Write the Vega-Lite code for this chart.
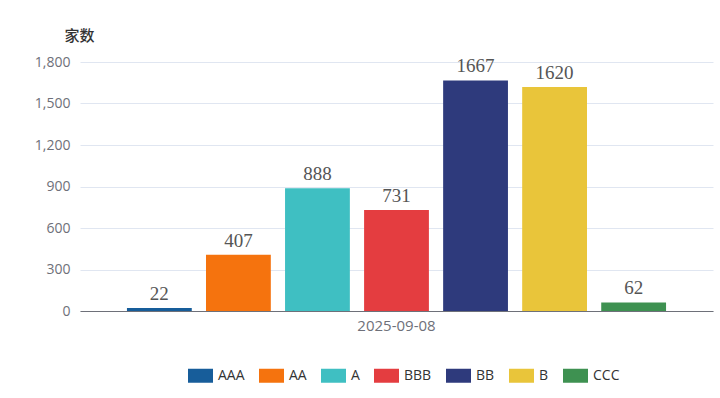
{
  "$schema": "https://vega.github.io/schema/vega-lite/v6.json",
  "width": 633,
  "height": 249,
  "autosize": {"type": "none"},
  "padding": {"left": 80, "top": 62, "right": 7, "bottom": 87},
  "background": "white",
  "data": {
    "values": [
      {"date": "2025-09-08", "rating": "AAA", "count": 22},
      {"date": "2025-09-08", "rating": "AA", "count": 407},
      {"date": "2025-09-08", "rating": "A", "count": 888},
      {"date": "2025-09-08", "rating": "BBB", "count": 731},
      {"date": "2025-09-08", "rating": "BB", "count": 1667},
      {"date": "2025-09-08", "rating": "B", "count": 1620},
      {"date": "2025-09-08", "rating": "CCC", "count": 62}
    ]
  },
  "config": {
    "view": {"stroke": null},
    "font": "Open Sans"
  },
  "encoding": {
    "x": {
      "field": "date",
      "type": "nominal",
      "scale": {"paddingInner": 0, "paddingOuter": 0.072},
      "axis": {
        "title": null,
        "labelAngle": 0,
        "labelColor": "#6E7079",
        "labelFontSize": 15,
        "labelPadding": 7,
        "domainColor": "#6E7079",
        "ticks": false,
        "grid": false
      }
    },
    "xOffset": {
      "field": "rating",
      "type": "nominal",
      "sort": ["AAA", "AA", "A", "BBB", "BB", "B", "CCC"],
      "scale": {"paddingInner": 0.18, "paddingOuter": 0.09}
    },
    "y": {
      "field": "count",
      "type": "quantitative",
      "scale": {"domain": [0, 1800], "nice": false},
      "axis": {
        "values": [0, 300, 600, 900, 1200, 1500, 1800],
        "format": ",d",
        "domain": false,
        "ticks": false,
        "labelColor": "#6E7079",
        "labelFontSize": 14,
        "labelPadding": 10,
        "gridColor": "#E0E6F1",
        "title": "家数",
        "titleAngle": 0,
        "titleX": -1,
        "titleY": -27,
        "titleAlign": "center",
        "titleBaseline": "middle",
        "titleFontSize": 15,
        "titleFontWeight": 500,
        "titleColor": "#333333",
        "titleFont": "Noto Sans CJK SC"
      }
    }
  },
  "layer": [
    {
      "mark": {"type": "bar"},
      "encoding": {
        "color": {
          "field": "rating",
          "type": "nominal",
          "sort": ["AAA", "AA", "A", "BBB", "BB", "B", "CCC"],
          "scale": {
            "domain": ["AAA", "AA", "A", "BBB", "BB", "B", "CCC"],
            "range": ["#175D9A", "#F5730E", "#3FBFC2", "#E43D40", "#2E3A7C", "#E9C53A", "#3E9151"]
          },
          "legend": {
            "title": null,
            "orient": "none",
            "direction": "horizontal",
            "legendX": 108,
            "legendY": 301,
            "symbolType": "M-1,-0.56H1V0.56H-1Z",
            "symbolSize": 625,
            "symbolStrokeWidth": 0,
            "symbolOpacity": 1,
            "labelFontSize": 14,
            "labelColor": "#333333",
            "labelOffset": 5,
            "columnPadding": 14
          }
        }
      }
    },
    {
      "mark": {
        "type": "text",
        "dy": -8,
        "baseline": "alphabetic",
        "font": "Liberation Serif",
        "fontSize": 19,
        "color": "#555555"
      },
      "encoding": {
        "text": {"field": "count", "type": "quantitative"}
      }
    }
  ]
}
